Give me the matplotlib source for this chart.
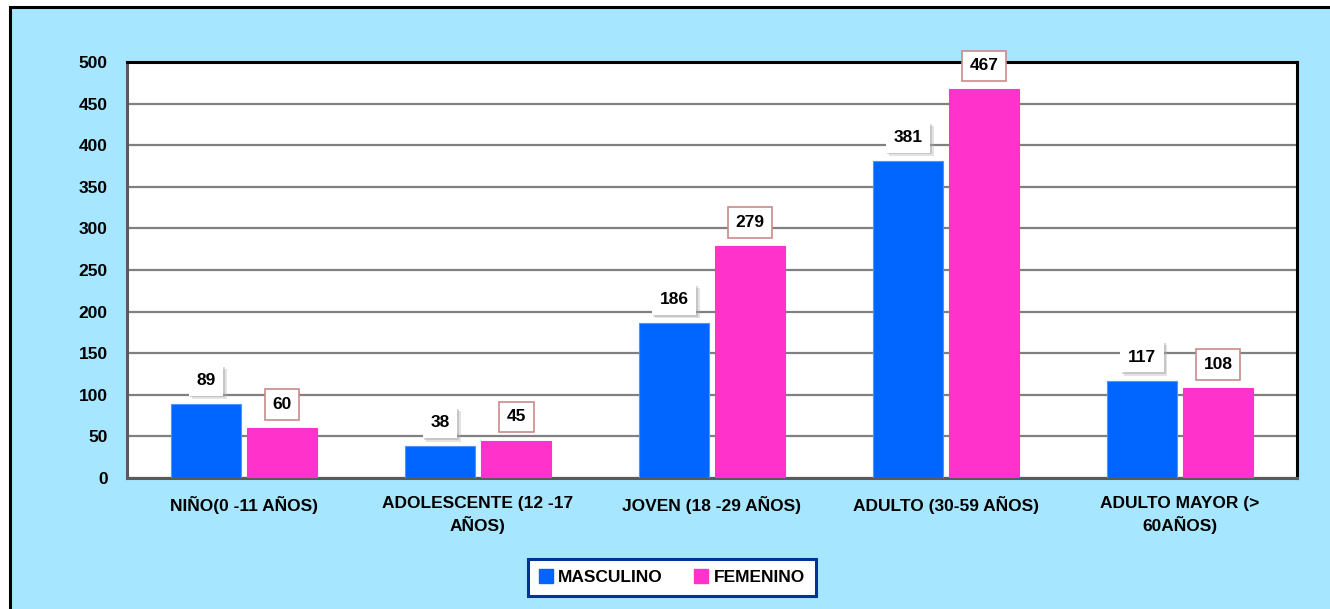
import matplotlib
matplotlib.use("Agg")
import matplotlib.pyplot as plt
import matplotlib.patheffects as pe
from matplotlib.patches import Rectangle
from matplotlib.lines import Line2D
import numpy as np

categories = ["NIÑO(0 -11 AÑOS)", "ADOLESCENTE (12 -17\nAÑOS)", "JOVEN (18 -29 AÑOS)",
              "ADULTO (30-59 AÑOS)", "ADULTO MAYOR (>\n60AÑOS)"]
masculino = [89, 38, 186, 381, 117]
femenino = [60, 45, 279, 467, 108]
series_names = ["MASCULINO", "FEMENINO"]
yticks = [0, 50, 100, 150, 200, 250, 300, 350, 400, 450, 500]

BLUE = "#0066FF"
PINK = "#FF33CC"
BG = "#A6E6FE"
FONT = ["Liberation Sans Narrow", "Liberation Sans", "DejaVu Sans"]
FS = 12.5

plt.rcParams["font.family"] = FONT
plt.rcParams["font.weight"] = "bold"

W, H = 1330, 609
fig = plt.figure(figsize=(W / 100, H / 100), dpi=100, facecolor="white")

# light blue chart area with black frame
fig.patches.append(Rectangle((10 / W, -0.2), 1.2, 1.2 - 7 / H, transform=fig.transFigure,
                             facecolor=BG, edgecolor="black", linewidth=2.2, zorder=-5))

ax = fig.add_axes([127 / W, (H - 478) / H, 1170 / W, 416 / H])
ax.set_zorder(2)
ax.set_facecolor("white")

x = np.arange(len(categories))
bw = 0.303
gap = 0.011
b1 = ax.bar(x - bw / 2 - gap, masculino, bw, color=BLUE, edgecolor="#4D94FF", linewidth=0.8, zorder=3)
b2 = ax.bar(x + bw / 2 + gap, femenino, bw, color=PINK, edgecolor=PINK, linewidth=0.8, zorder=3)

ax.set_xlim(-0.5, len(categories) - 0.5)
ax.set_ylim(0, 500)
ax.set_yticks(yticks)
ax.set_yticklabels([str(t) for t in yticks], fontsize=FS, fontweight="bold")
ax.set_xticks(x)
ax.set_xticklabels(categories, fontsize=FS, fontweight="bold", linespacing=1.3)
ax.tick_params(axis="both", length=0)
ax.tick_params(axis="y", pad=14)
ax.tick_params(axis="x", pad=13)
ax.yaxis.grid(True, color="#808080", linewidth=1.6, zorder=1)
ax.set_axisbelow(True)

for side in ("top", "right"):
    ax.spines[side].set_color("black")
    ax.spines[side].set_linewidth(2.2)
for side in ("left", "bottom"):
    ax.spines[side].set_color("#5A5A5A")
    ax.spines[side].set_linewidth(2.2)

shadow = [pe.SimplePatchShadow(offset=(2.5, -2.5), shadow_rgbFace="#B0B0B0", alpha=0.35),
          pe.SimplePatchShadow(offset=(1.2, -1.2), shadow_rgbFace="#909090", alpha=0.35),
          pe.Normal()]

def label(bar, value, framed):
    cx = bar.get_x() + bar.get_width() / 2
    if framed:
        box = dict(boxstyle="square,pad=0.45", facecolor="white", edgecolor="#C98A8A", linewidth=1.2)
    else:
        box = dict(boxstyle="square,pad=0.45", facecolor="white", edgecolor="none")
    t = ax.annotate(str(value), (cx, value), xytext=(0, 17), textcoords="offset points",
                    ha="center", va="center", fontsize=FS, fontweight="bold", color="black",
                    bbox=box, zorder=5, annotation_clip=False)
    if not framed:
        t.get_bbox_patch().set_path_effects(shadow)

for bar, v in zip(b1, masculino):
    label(bar, v, False)
for bar, v in zip(b2, femenino):
    label(bar, v, True)

handles = [Line2D([], [], marker="s", linestyle="none", markersize=10, color=BLUE),
           Line2D([], [], marker="s", linestyle="none", markersize=10, color=PINK)]
leg = fig.legend(handles, series_names, loc="center", bbox_to_anchor=(672 / W, 1 - 577.5 / H),
                 ncol=2, frameon=True, fancybox=False, handlelength=0.8,
                 handletextpad=0.3, columnspacing=1.8, borderpad=0.65,
                 prop={"weight": "bold", "size": FS, "family": FONT})
leg.get_frame().set_edgecolor("#003399")
leg.get_frame().set_linewidth(2.2)
leg.get_frame().set_facecolor("white")
leg.get_frame().set_alpha(1)

fig.savefig("out.png", dpi=100, facecolor="white")
